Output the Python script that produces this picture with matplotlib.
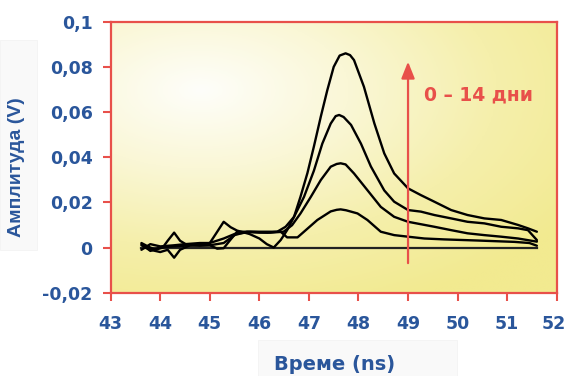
import numpy as np
import matplotlib
matplotlib.use("Agg")
import matplotlib.pyplot as plt
from matplotlib.colors import LinearSegmentedColormap
from matplotlib.patches import Rectangle
from matplotlib.transforms import ScaledTranslation

# Signal traces (time in ns, amplitude in V)
t_a = [43.62, 43.75, 43.9, 44.05, 44.15, 44.28, 44.4, 44.55, 44.8, 45.0, 45.12, 45.28,
       45.42, 45.55, 45.8, 46.0, 46.15, 46.29, 46.43, 46.56, 46.7, 46.83, 46.97, 47.1, 47.24,
       47.37, 47.5, 47.62, 47.74, 47.83, 47.91, 48.11, 48.32, 48.52, 48.72, 49.0, 49.26, 49.53,
       49.87, 50.2, 50.54, 50.88, 51.22, 51.42, 51.6]
a_a = [0.002, 0.0005, -0.001, 0.0, 0.003, 0.0066, 0.003, 0.001, 0.0015, 0.002, 0.006, 0.0114,
       0.009, 0.0075, 0.006, 0.004, 0.0015, 0.0, 0.0033, 0.0077, 0.0136, 0.0225, 0.033, 0.0447,
       0.058, 0.0696, 0.080, 0.0850, 0.086, 0.0852, 0.083, 0.0712, 0.055, 0.0417, 0.0328, 0.0262,
       0.0232, 0.0203, 0.0166, 0.0144, 0.0129, 0.0122, 0.010, 0.0085, 0.007]

t_b = [43.62, 43.8, 44.0, 44.15, 44.28, 44.4, 44.6, 44.8, 45.0, 45.15, 45.28, 45.4, 45.55,
       45.82, 46.16, 46.36, 46.53, 46.7, 46.9, 47.1, 47.27, 47.44, 47.54, 47.61, 47.7, 47.85,
       48.05, 48.25, 48.52, 48.72, 49.0, 49.26, 49.53, 49.87, 50.2, 50.54, 50.88, 51.22, 51.42,
       51.6]
a_b = [0.001, -0.001, -0.002, -0.001, -0.0045, -0.001, 0.001, 0.0008, 0.001, -0.0005, -0.0003,
       0.003, 0.007, 0.007, 0.0066, 0.007, 0.0092, 0.0136, 0.0224, 0.034, 0.046, 0.0549, 0.0582,
       0.0587, 0.0578, 0.0543, 0.046, 0.0359, 0.0253, 0.0203, 0.0166, 0.0159, 0.0144, 0.0129,
       0.0114, 0.0107, 0.0092, 0.0085, 0.0077, 0.0033]

t_c = [43.62, 43.8, 44.0, 44.28, 44.5, 44.8, 45.0, 45.28, 45.5, 45.8, 46.0, 46.22, 46.49,
       46.66, 46.83, 47.04, 47.24, 47.44, 47.56, 47.64, 47.74, 47.91, 48.18, 48.45, 48.72, 49.0,
       49.53, 49.87, 50.2, 50.54, 50.88, 51.22, 51.6]
a_c = [-0.001, 0.0015, 0.0005, 0.001, 0.0015, 0.002, 0.002, 0.004, 0.006, 0.0068, 0.0066,
       0.0066, 0.0070, 0.0099, 0.0151, 0.0225, 0.0299, 0.0358, 0.0370, 0.0373, 0.0368, 0.0328,
       0.0254, 0.018, 0.0136, 0.0114, 0.0092, 0.0077, 0.0063, 0.0055, 0.0048, 0.004, 0.0026]

t_d = [43.62, 43.8, 44.0, 44.28, 44.5, 44.8, 45.0, 45.28, 45.5, 45.75, 46.02, 46.3, 46.43,
       46.56, 46.77, 46.9, 47.17, 47.44, 47.56, 47.64, 47.75, 47.98, 48.18, 48.45, 48.72, 49.0,
       49.33, 49.73, 50.41, 51.15, 51.45, 51.6]
a_d = [0.0015, -0.0015, 0.0, 0.0005, 0.0008, 0.001, 0.001, 0.002, 0.0055, 0.007, 0.007,
       0.007, 0.007, 0.0045, 0.0045, 0.007, 0.0122, 0.016, 0.0167, 0.0169, 0.0165, 0.0151,
       0.0122, 0.007, 0.0055, 0.0048, 0.0040, 0.0036, 0.0031, 0.0025, 0.002, 0.0008]

# Reference zero line
t_ref = [43.62, 51.6]
a_ref = [0.0, 0.0]

x_ticks = [43, 44, 45, 46, 47, 48, 49, 50, 51, 52]
y_ticks = [-0.02, 0.0, 0.02, 0.04, 0.06, 0.08, 0.1]
y_tick_labels = ["-0,02", "0", "0,02", "0,04", "0,06", "0,08", "0,1"]

arrow_t = 49.0
arrow_from, arrow_to = -0.0069, 0.0823
annotation = "0 – 14 дни"

RED = "#e8504a"
BLUE = "#2a569b"
WIDE = ["DejaVu Sans"]
NARROW = ["Liberation Sans", "DejaVu Sans"]

fig = plt.figure(figsize=(5.66, 3.76), dpi=100)
fig.patch.set_facecolor("white")

# faint label boxes
fig.patches.append(Rectangle((258 / 566, 0), 199 / 566, 36 / 376, transform=fig.transFigure,
                             facecolor="#f9f9f9", edgecolor="#f1f1f1", lw=0.5, zorder=0))
fig.patches.append(Rectangle((0, 126 / 376), 37 / 566, 210 / 376, transform=fig.transFigure,
                             facecolor="#f9f9f9", edgecolor="#f1f1f1", lw=0.5, zorder=0))

ax = fig.add_axes([110.7 / 566, 1 - 292.7 / 376, 446 / 566, 271 / 376])

# radial pale-to-yellow background, lightest near the upper left
cmap = LinearSegmentedColormap.from_list("bg", ["#fefefa", "#faf7d6", "#f5efab", "#f2ea90"])
gy, gx = np.mgrid[0:1:200j, 0:1:200j]
grad = np.clip(np.hypot((gx - 0.2) * 1.0, (gy - 0.25) * 1.15) / 1.0, 0, 1)
ax.imshow(grad, cmap=cmap, extent=[43, 52, -0.02, 0.1], aspect="auto",
          origin="upper", zorder=0, interpolation="bilinear", vmin=0, vmax=1)
ax.set_xlim(43, 52)
ax.set_ylim(-0.02, 0.1)

ax.plot(t_ref, a_ref, color="#222222", lw=1.6, zorder=2)
for t, a in [(t_d, a_d), (t_c, a_c), (t_b, a_b), (t_a, a_a)]:
    ax.plot(t, a, color="black", lw=1.7, zorder=3, solid_joinstyle="round",
            solid_capstyle="round")

ax.annotate("", xy=(arrow_t, arrow_to), xytext=(arrow_t, arrow_from),
            arrowprops=dict(arrowstyle="-|>,head_length=1.0,head_width=0.4",
                            mutation_scale=10, color=RED, lw=1.6,
                            shrinkA=0, shrinkB=0), zorder=4)
ax.text(49.33, 0.0675, annotation, color=RED, fontsize=13.5, fontweight="bold",
        family=WIDE, ha="left", va="center", zorder=5)

for s in ax.spines.values():
    s.set_color(RED)
    s.set_linewidth(1.6)

ax.set_xticks(x_ticks)
ax.set_xticklabels([str(v) for v in x_ticks])
ax.set_yticks(y_ticks)
ax.set_yticklabels(y_tick_labels)
ax.tick_params(axis="both", direction="out", length=5.5, width=1.5, color=RED,
               labelcolor=BLUE, labelsize=12.5)
ax.tick_params(axis="x", pad=10.5)
ax.tick_params(axis="y", pad=7.5)
for lab in ax.get_xticklabels() + ax.get_yticklabels():
    lab.set_fontweight("bold")
    lab.set_family(WIDE)

# keep the last x label inside the canvas
last = ax.get_xticklabels()[-1]
last.set_transform(last.get_transform() + ScaledTranslation(-3 / 100, 0, fig.dpi_scale_trans))

fig.text(335 / 566, 1 - 365 / 376, "Време (ns)", color=BLUE, fontsize=14,
         fontweight="bold", family=WIDE, ha="center", va="center")
fig.text(17 / 566, 1 - 167 / 376, "Амплитуда (V)", color=BLUE, fontsize=14,
         fontweight="bold", family=NARROW, ha="center", va="center", rotation=90)

fig.savefig("out.png", dpi=100)
